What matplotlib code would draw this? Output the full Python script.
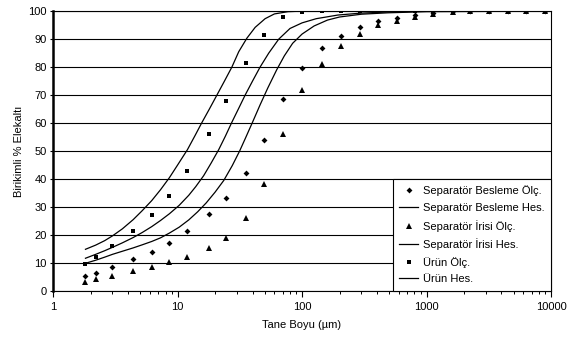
import matplotlib
matplotlib.use("Agg")
import matplotlib.pyplot as plt
from matplotlib.ticker import LogLocator, FixedLocator, NullFormatter

plt.rcParams['font.family'] = ['Liberation Sans', 'DejaVu Sans']

# measured sieve sizes (um)
x_olc = [1.8, 2.2, 3.0, 4.4, 6.2, 8.6, 12, 17.8, 24.6, 35.3, 49.2, 70.6, 100,
         145, 205, 291, 410, 578, 813, 1130, 1640, 2220, 3160, 4470, 6300, 8900]

besleme_olc = [5.2, 6.4, 8.6, 11.3, 14.0, 17.1, 21.3, 27.4, 33.2, 42.3, 53.8,
               68.5, 79.8, 86.7, 91.2, 94.2, 96.4, 97.7, 98.6, 99.2, 100, 100,
               100, 100, 100, 100]
irisi_olc = [3.2, 4.2, 5.5, 7.0, 8.5, 10.2, 12.3, 15.2, 18.8, 26.2, 38.2, 56.2,
             71.8, 81.2, 87.4, 91.8, 95.0, 96.6, 97.8, 98.8, 99.6, 100, 100,
             100, 100, 100]
urun_olc = [9.6, 12.1, 16.1, 21.3, 27.0, 33.8, 43.0, 56.2, 67.9, 81.3, 91.3,
            97.8, 99.8, 100, 100, 100, 100, 100, 100, 100, 100, 100, 100, 100,
            100, 100]

# calculated curves
urun_hes_x = [1.82, 2.2, 2.6, 3.0, 3.6, 4.4, 5.2, 6.2, 7.3, 8.6, 10, 12, 13.8,
              15.6, 18, 20.7, 23.8, 27.3, 31, 36, 42, 50.5, 60, 77, 100, 1000,
              10000]
urun_hes_y = [14.9, 16.4, 18.0, 19.7, 22.2, 25.5, 28.7, 32.3, 36.2, 40.5, 45,
              50.5, 55.5, 60, 65, 70, 75, 80, 85.5, 90.3, 94.2, 97.3, 99,
              99.8, 100, 100, 100]

besleme_hes_x = [1.82, 2.2, 2.6, 3.0, 3.6, 4.4, 5.2, 6.2, 7.3, 8.6, 10.3, 12.3,
                 14, 16.2, 18.6, 21.4, 24.2, 27.3, 31, 34.9, 40, 46, 54, 65, 80,
                 100, 130, 194, 300, 500, 1000, 10000]
besleme_hes_y = [11.7, 13.1, 14.4, 15.6, 17.2, 19.1, 20.9, 23.0, 25.2, 27.6,
                 30.6, 34.2, 37.3, 41.2, 45.7, 50.5, 55.3, 60.3, 65.3, 70, 75,
                 80, 85, 90, 93.8, 95.8, 97.3, 98.6, 99.3, 99.7, 100, 100]

irisi_hes_x = [1.82, 2.2, 2.6, 3.0, 3.6, 4.4, 5.2, 6.2, 7.3, 8.6, 10.3, 12.3,
               14.5, 17, 20, 23.5, 27.5, 31.5, 35, 40, 46, 53, 62.5, 72, 84,
               100, 125, 160, 200, 300, 490, 1000, 10000]
irisi_hes_y = [9.9, 11.0, 12.1, 13.1, 14.2, 15.4, 16.5, 17.7, 19.0, 20.7, 22.8,
               25.4, 28.3, 31.5, 35.3, 39.5, 44.8, 50, 54.5, 60.3, 66.5, 72.5,
               79, 84, 88.5, 91.8, 94.7, 96.8, 97.9, 98.9, 99.4, 99.8, 100]

fig = plt.figure(figsize=(5.77, 3.37), dpi=100)
ax = fig.add_axes([0.092, 0.1365, 0.863, 0.8305])

ax.plot(x_olc, besleme_olc, 'D', color='black', ms=3.0, mew=0,
        label='Separatör Besleme Ölç.')
ax.plot(besleme_hes_x, besleme_hes_y, '-', color='black', lw=0.9,
        label='Separatör Besleme Hes.')
ax.plot(x_olc, irisi_olc, '^', color='black', ms=3.8, mew=0,
        label='Separatör İrisi Ölç.')
ax.plot(irisi_hes_x, irisi_hes_y, '-', color='black', lw=0.9,
        label='Separatör İrisi Hes.')
ax.plot(x_olc, urun_olc, 's', color='black', ms=3.5, mew=0,
        label='Ürün Ölç.')
ax.plot(urun_hes_x, urun_hes_y, '-', color='black', lw=0.9,
        label='Ürün Hes.')

ax.set_xscale('log')
ax.set_xlim(1, 10000)
ax.set_ylim(0, 100)
ax.yaxis.set_major_locator(FixedLocator(range(0, 101, 10)))
ax.xaxis.set_major_formatter(plt.FuncFormatter(lambda v, p: '%d' % v))
ax.xaxis.set_minor_locator(LogLocator(base=10, subs=range(2, 10)))
ax.xaxis.set_minor_formatter(NullFormatter())
ax.yaxis.grid(True, color='black', lw=0.8)
ax.set_axisbelow(True)

ax.spines['left'].set_linewidth(1.8)
for s in ['bottom', 'top', 'right']:
    ax.spines[s].set_linewidth(0.8)

ax.tick_params(axis='both', labelsize=8, direction='out', width=0.8)
ax.tick_params(axis='x', which='major', length=4, pad=4)
ax.tick_params(axis='x', which='minor', length=2.5, width=0.7)
ax.tick_params(axis='y', length=2.5, pad=2)

ax.set_xlabel('Tane Boyu (µm)', fontsize=8, labelpad=6)
ax.set_ylabel('Birikimli % Elekaltı', fontsize=8, labelpad=3)

leg = ax.legend(loc='lower right', bbox_to_anchor=(1, 0), borderaxespad=0,
                fontsize=8, numpoints=1, fancybox=False, framealpha=1,
                edgecolor='black', borderpad=0.6, labelspacing=0.6,
                handlelength=1.7, handletextpad=0.4)
leg.get_frame().set_linewidth(0.8)

fig.savefig('out.png', dpi=100)
